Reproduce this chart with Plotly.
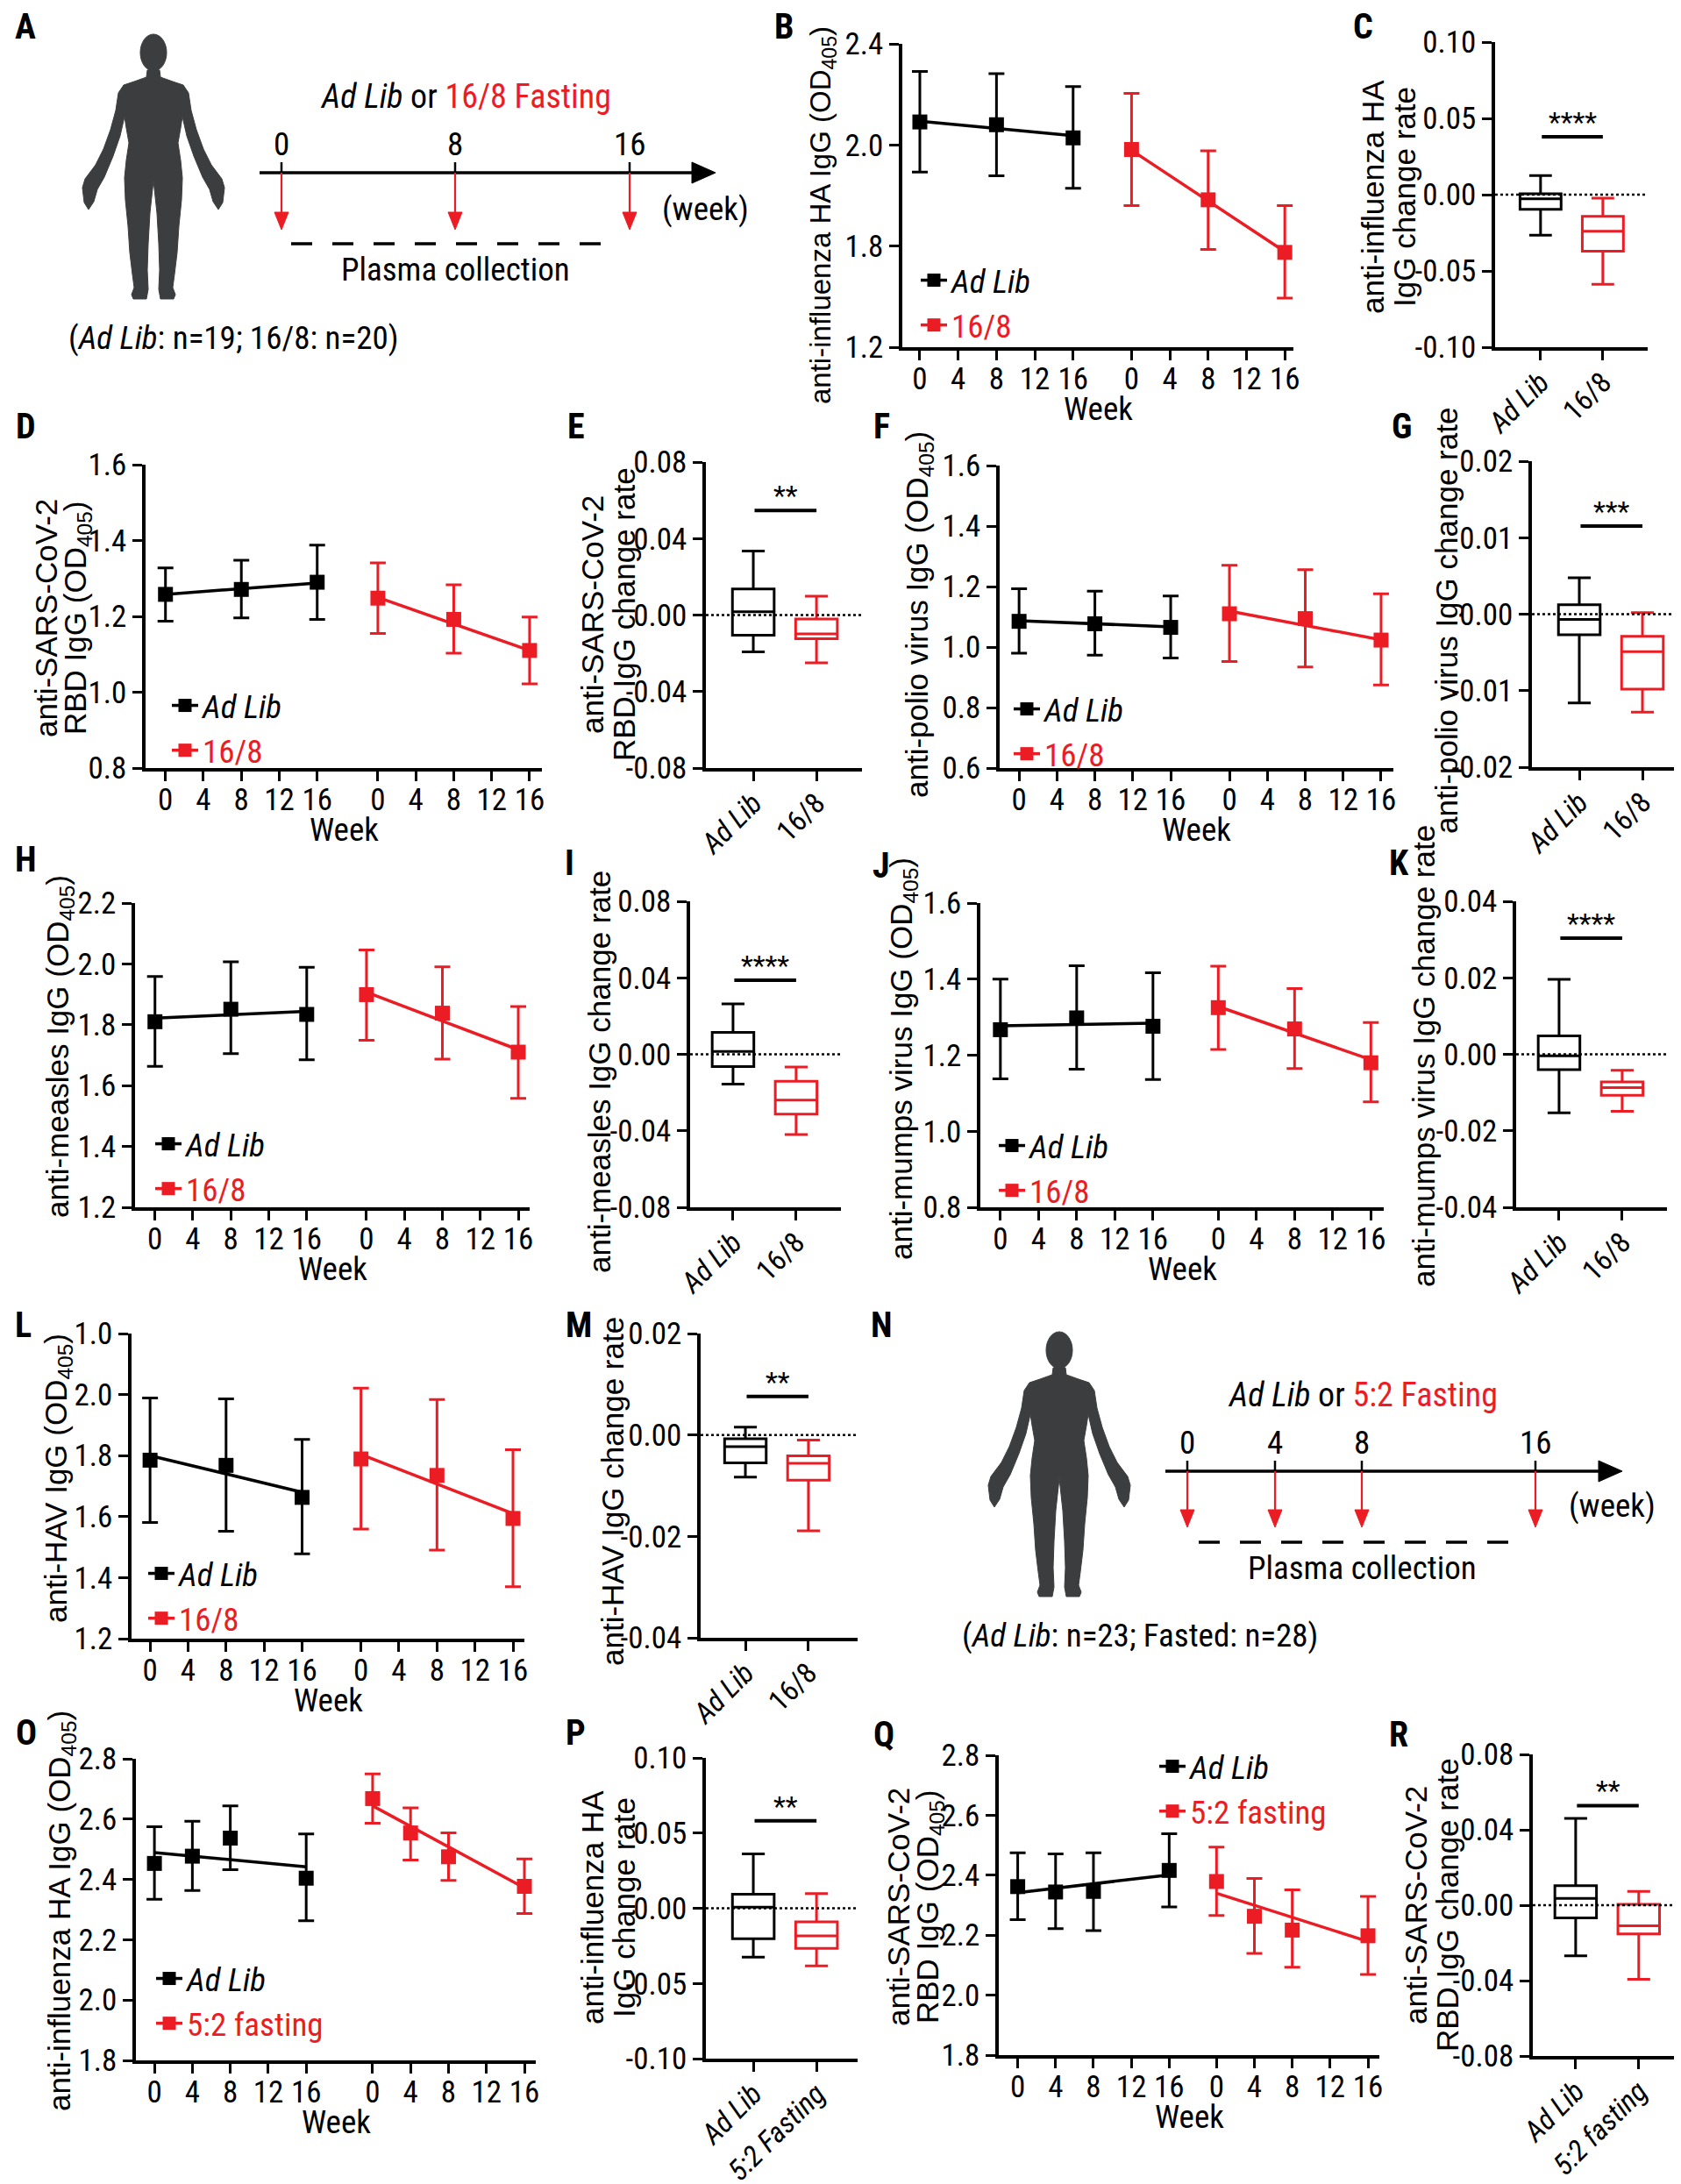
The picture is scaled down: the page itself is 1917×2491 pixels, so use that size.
import subprocess
import plotly.graph_objects as go

W, H = 1917, 2491
BLACK = "#000000"
RED = "#ec1c24"
GREY = "#3b3d3f"
FONT = "Liberation Sans, Arial, Helvetica, sans-serif"


def installed_families():
    try:
        out = subprocess.run(["fc-list", ":", "family"], capture_output=True, text=True,
                             timeout=20).stdout
    except Exception:
        out = ""
    fams = set()
    for line in out.splitlines():
        for f in line.split(","):
            fams.add(f.strip())
    return fams


FAMS = installed_families()
NARROW_CANDIDATES = ["Liberation Sans Narrow", "Arial Narrow", "Noto Sans ExtraCondensed",
                     "Noto Sans Condensed", "Roboto Condensed", "Open Sans Condensed",
                     "DejaVu Sans Condensed"]
narrow_pick = [c for c in NARROW_CANDIDATES if c in FAMS]
NARROW = ", ".join(narrow_pick + ["DejaVu Sans Condensed", "sans-serif"])

# ---------------- data ----------------
weeks_168 = [0, 8, 16]
weeks_52 = [0, 4, 8, 16]
week_ticks = [0, 4, 8, 12, 16]
week_tick_text = ["0", "4", "8", "12", "16"]

# B  anti-influenza HA IgG, 16/8
B_ad_mean = [2.091, 2.080, 2.028]
B_ad_hi = [2.291, 2.282, 2.231]
B_ad_lo = [1.893, 1.878, 1.829]
B_ad_fit = [2.094, 2.037]
B_fa_mean = [1.982, 1.783, 1.575]
B_fa_hi = [2.204, 1.977, 1.760]
B_fa_lo = [1.760, 1.587, 1.394]
B_fa_fit = [1.979, 1.578]
B_yticks = [1.2, 1.6, 2.0, 2.4]
B_yticktext = ["1.2", "1.8", "2.0", "2.4"]

# D  anti-SARS-CoV-2 RBD IgG, 16/8
D_ad_mean = [1.258, 1.271, 1.290]
D_ad_hi = [1.328, 1.348, 1.388]
D_ad_lo = [1.187, 1.196, 1.192]
D_ad_fit = [1.258, 1.288]
D_fa_mean = [1.248, 1.192, 1.110]
D_fa_hi = [1.341, 1.283, 1.198]
D_fa_lo = [1.155, 1.103, 1.022]
D_fa_fit = [1.250, 1.110]
D_yticks = [0.8, 1.0, 1.2, 1.4, 1.6]
D_yticktext = ["0.8", "1.0", "1.2", "1.4", "1.6"]

# F  anti-polio virus IgG, 16/8
F_ad_mean = [1.085, 1.077, 1.065]
F_ad_hi = [1.193, 1.185, 1.169]
F_ad_lo = [0.980, 0.973, 0.964]
F_ad_fit = [1.087, 1.067]
F_fa_mean = [1.110, 1.094, 1.023]
F_fa_hi = [1.270, 1.256, 1.176]
F_fa_lo = [0.952, 0.934, 0.875]
F_fa_fit = [1.119, 1.024]
F_yticks = [0.6, 0.8, 1.0, 1.2, 1.4, 1.6]
F_yticktext = ["0.6", "0.8", "1.0", "1.2", "1.4", "1.6"]

# H  anti-measles IgG, 16/8
H_ad_mean = [1.810, 1.851, 1.834]
H_ad_hi = [1.959, 2.007, 1.989]
H_ad_lo = [1.663, 1.705, 1.685]
H_ad_fit = [1.822, 1.844]
H_fa_mean = [1.899, 1.838, 1.710]
H_fa_hi = [2.046, 1.990, 1.860]
H_fa_lo = [1.749, 1.687, 1.558]
H_fa_fit = [1.907, 1.718]
H_yticks = [1.2, 1.4, 1.6, 1.8, 2.0, 2.2]
H_yticktext = ["1.2", "1.4", "1.6", "1.8", "2.0", "2.2"]

# J  anti-mumps virus IgG, 16/8
J_ad_mean = [1.267, 1.298, 1.276]
J_ad_hi = [1.400, 1.435, 1.417]
J_ad_lo = [1.138, 1.163, 1.136]
J_ad_fit = [1.277, 1.284]
J_fa_mean = [1.325, 1.269, 1.180]
J_fa_hi = [1.434, 1.375, 1.286]
J_fa_lo = [1.215, 1.165, 1.077]
J_fa_fit = [1.328, 1.188]
J_yticks = [0.8, 1.0, 1.2, 1.4, 1.6]
J_yticktext = ["0.8", "1.0", "1.2", "1.4", "1.6"]

# L  anti-HAV IgG, 16/8
L_ad_mean = [1.785, 1.768, 1.663]
L_ad_hi = [1.989, 1.986, 1.853]
L_ad_lo = [1.581, 1.552, 1.478]
L_ad_fit = [1.800, 1.680]
L_fa_mean = [1.789, 1.735, 1.594]
L_fa_hi = [2.021, 1.984, 1.819]
L_fa_lo = [1.559, 1.490, 1.370]
L_fa_fit = [1.804, 1.610]
L_yticks = [1.2, 1.4, 1.6, 1.8, 2.0, 2.2]
L_yticktext = ["1.2", "1.4", "1.6", "1.8", "2.0", "1.0"]

# O  anti-influenza HA IgG, 5:2
O_ad_mean = [2.453, 2.477, 2.537, 2.404]
O_ad_hi = [2.575, 2.593, 2.644, 2.551]
O_ad_lo = [2.334, 2.363, 2.432, 2.263]
O_ad_fit = [2.489, 2.442]
O_fa_mean = [2.668, 2.554, 2.475, 2.377]
O_fa_hi = [2.750, 2.637, 2.554, 2.468]
O_fa_lo = [2.586, 2.464, 2.397, 2.287]
O_fa_fit = [2.644, 2.372]
O_yticks = [1.8, 2.0, 2.2, 2.4, 2.6, 2.8]
O_yticktext = ["1.8", "2.0", "2.2", "2.4", "2.6", "2.8"]

# Q  anti-SARS-CoV-2 RBD IgG, 5:2
Q_ad_mean = [2.362, 2.344, 2.346, 2.416]
Q_ad_hi = [2.475, 2.471, 2.475, 2.538]
Q_ad_lo = [2.252, 2.222, 2.215, 2.294]
Q_ad_fit = [2.342, 2.401]
Q_fa_mean = [2.379, 2.263, 2.217, 2.198]
Q_fa_hi = [2.494, 2.389, 2.351, 2.329]
Q_fa_lo = [2.266, 2.139, 2.093, 2.069]
Q_fa_fit = [2.340, 2.179]
Q_yticks = [1.8, 2.0, 2.2, 2.4, 2.6, 2.8]
Q_yticktext = ["1.8", "2.0", "2.2", "2.4", "2.6", "2.8"]

# box plots: [lower whisker, Q1, median, Q3, upper whisker]
C_ad = [-0.0266, -0.0096, -0.0027, 0.0006, 0.0125]
C_fa = [-0.0588, -0.0370, -0.0240, -0.0142, -0.0023]
C_sig, C_stars = 0.038, "****"
C_yticks = [-0.10, -0.05, 0.0, 0.05, 0.10]
C_yticktext = ["-0.10", "-0.05", "0.00", "0.05", "0.10"]

E_ad = [-0.0193, -0.0105, 0.0017, 0.0136, 0.0335]
E_fa = [-0.0250, -0.0124, -0.0099, -0.0021, 0.0098]
E_sig, E_stars = 0.0547, "**"
E_yticks = [-0.08, -0.04, 0.0, 0.04, 0.08]
E_yticktext = ["-0.08", "-0.04", "0.00", "0.04", "0.08"]

G_ad = [-0.0116, -0.0027, -0.0007, 0.00123, 0.00475]
G_fa = [-0.0128, -0.0098, -0.0049, -0.0029, 0.0002]
G_sig, G_stars = 0.01153, "***"
G_yticks = [-0.02, -0.01, 0.0, 0.01, 0.02]
G_yticktext = ["-0.02", "-0.01", "0.00", "0.01", "0.02"]

I_ad = [-0.0156, -0.0064, 0.0015, 0.0115, 0.0264]
I_fa = [-0.0419, -0.0313, -0.0240, -0.0141, -0.0067]
I_sig, I_stars = 0.0387, "****"
I_yticks = [-0.08, -0.04, 0.0, 0.04, 0.08]
I_yticktext = ["-0.08", "-0.04", "0.00", "0.04", "0.08"]

K_ad = [-0.0153, -0.0040, -0.0004, 0.0048, 0.0196]
K_fa = [-0.0149, -0.0107, -0.0087, -0.0072, -0.0042]
K_sig, K_stars = 0.0304, "****"
K_yticks = [-0.04, -0.02, 0.0, 0.02, 0.04]
K_yticktext = ["-0.04", "-0.02", "0.00", "0.02", "0.04"]

M_ad = [-0.0083, -0.0055, -0.0023, -0.00075, 0.00155]
M_fa = [-0.0189, -0.0089, -0.0056, -0.0041, -0.0010]
M_sig, M_stars = 0.0076, "**"
M_yticks = [-0.04, -0.02, 0.0, 0.02]
M_yticktext = ["-0.04", "-0.02", "0.00", "0.02"]

P_ad = [-0.0325, -0.0202, 0.0008, 0.0093, 0.0362]
P_fa = [-0.0383, -0.0267, -0.0183, -0.0091, 0.0097]
P_sig, P_stars = 0.0582, "**"
P_yticks = [-0.10, -0.05, 0.0, 0.05, 0.10]
P_yticktext = ["-0.10", "-0.05", "0.00", "0.05", "0.10"]

R_ad = [-0.0269, -0.0067, 0.0036, 0.0104, 0.0461]
R_fa = [-0.0393, -0.0152, -0.0109, 0.0005, 0.0073]
R_sig, R_stars = 0.0528, "**"
R_yticks = [-0.08, -0.04, 0.0, 0.04, 0.08]
R_yticktext = ["-0.08", "-0.04", "0.00", "0.04", "0.08"]

cats_168 = ["<i>Ad Lib</i>", "16/8"]
cats_52_P = ["<i>Ad Lib</i>", "<i>5:2 Fasting</i>"]
cats_52_R = ["<i>Ad Lib</i>", "<i>5:2 fasting</i>"]

timeline_A_weeks = ["0", "8", "16"]
timeline_N_weeks = ["0", "4", "8", "16"]

# text sizes
TICK = 35
LEG = 37
LAB = 37
CAT = 33

# ---------------- helpers ----------------
def PX(x):
    return x / W


def PY(y):
    return 1 - y / H


fig = go.Figure()
annotations = []
shapes = []
axes_layout = {}
legends = {}
counter = [0]
legend_counter = [0]


def new_axes():
    counter[0] += 1
    s = "" if counter[0] == 1 else str(counter[0])
    return "xaxis" + s, "yaxis" + s, "x" + s, "y" + s


def text(t, x, y, size=LAB, color=BLACK, angle=0, xanchor="center", yanchor="middle",
         family=None):
    annotations.append(dict(text=t, x=PX(x), y=PY(y), xref="paper", yref="paper",
                            showarrow=False, textangle=angle, xanchor=xanchor, yanchor=yanchor,
                            font=dict(family=family or NARROW, size=size, color=color)))


def axis_style():
    return dict(showline=True, linecolor=BLACK, linewidth=3.5, ticks="outside", ticklen=11,
                tickwidth=3, tickcolor=BLACK, showgrid=False, zeroline=False, fixedrange=True,
                tickfont=dict(family=NARROW, size=TICK, color=BLACK), automargin=False)


def ytitle(lines, x, y, size=35):
    n = len(lines)
    gap = 36
    for i, ln in enumerate(lines):
        dx = (i - (n - 1) / 2) * gap
        text(ln, x + dx, y, size=size, angle=-90, family=FONT)


def poly(points, color):
    path = "M " + " L ".join("%.5f,%.5f" % (PX(u), PY(v)) for u, v in points) + " Z"
    shapes.append(dict(type="path", path=path, xref="paper", yref="paper",
                       fillcolor=color, line=dict(color=color, width=1)))


def seg(x0, y0, x1, y1, color=BLACK, width=3.5, dash=None):
    ln = dict(color=color, width=width)
    if dash:
        ln["dash"] = dash
    shapes.append(dict(type="line", xref="paper", yref="paper", x0=PX(x0), x1=PX(x1),
                       y0=PY(y0), y1=PY(y1), line=ln))


def line_panel(box, xr_, offset, weeks, ad, fa, yticks, yticktext, title_lines, title_xy,
               legend_xy, fast_name, title_size=35):
    xa, ya, xref, yref = new_axes()
    left, right, top, bottom = box
    tv = week_ticks + [offset + w for w in week_ticks]
    axes_layout[xa] = dict(axis_style(), domain=[PX(left), PX(right)], range=xr_, anchor=yref,
                           tickvals=tv, ticktext=week_tick_text * 2, tickangle=0,
                           ticklabelstandoff=-9)
    axes_layout[ya] = dict(axis_style(), domain=[PY(bottom), PY(top)],
                           range=[yticks[0], yticks[-1]], anchor=xref,
                           tickvals=yticks, ticktext=yticktext)
    groups = [(weeks, ad, BLACK), ([offset + w for w in weeks], fa, RED)]
    for xs, (mean, hi, lo, fit), col in groups:
        fig.add_trace(go.Scatter(x=[xs[0], xs[-1]], y=fit, mode="lines",
                                 line=dict(color=col, width=3.5), showlegend=False,
                                 hoverinfo="skip", xaxis=xref, yaxis=yref))
        fig.add_trace(go.Scatter(
            x=xs, y=mean, mode="markers",
            marker=dict(symbol="square", size=17, color=col),
            error_y=dict(type="data", symmetric=False,
                         array=[h - m for h, m in zip(hi, mean)],
                         arrayminus=[m - l for m, l in zip(mean, lo)],
                         color=col, thickness=3, width=9),
            showlegend=False, xaxis=xref, yaxis=yref))
    # legend
    legend_counter[0] += 1
    lid = "legend" if legend_counter[0] == 1 else "legend%d" % legend_counter[0]
    for name, col in [("<i>Ad Lib</i>", BLACK),
                      ("<span style='color:%s'>%s</span>" % (RED, fast_name), RED)]:
        fig.add_trace(go.Scatter(x=[None], y=[None], mode="lines+markers", name=name,
                                 marker=dict(symbol="square", size=15, color=col),
                                 line=dict(color=col, width=3.5), legend=lid,
                                 xaxis=xref, yaxis=yref))
    lx, ly = legend_xy
    legends[lid] = dict(x=PX(lx - 30), y=PY(ly - 27), xanchor="left", yanchor="top",
                        bgcolor="rgba(0,0,0,0)", borderwidth=0, tracegroupgap=0,
                        itemwidth=30, font=dict(family=NARROW, size=LEG, color=BLACK))
    ytitle(title_lines, title_xy[0], title_xy[1], size=title_size)
    text("Week", (left + right) / 2, bottom + 70, size=LAB)


def box_panel(box, xr_, ad, fa, cats, yticks, yticktext, sig, stars, title_lines, title_xy):
    xa, ya, xref, yref = new_axes()
    left, right, top, bottom = box
    axes_layout[xa] = dict(axis_style(), domain=[PX(left), PX(right)], range=xr_, anchor=yref,
                           tickvals=[0, 1], ticktext=cats, tickangle=-45,
                           ticklabelstandoff=-7)
    axes_layout[xa]["tickfont"] = dict(family=NARROW, size=CAT, color=BLACK)
    axes_layout[ya] = dict(axis_style(), domain=[PY(bottom), PY(top)],
                           range=[yticks[0], yticks[-1]], anchor=xref,
                           tickvals=yticks, ticktext=yticktext)
    for pos, stats, col in [(0, ad, BLACK), (1, fa, RED)]:
        fig.add_trace(go.Box(x=[pos], lowerfence=[stats[0]], q1=[stats[1]], median=[stats[2]],
                             q3=[stats[3]], upperfence=[stats[4]], orientation="v",
                             line=dict(color=col, width=3), fillcolor="white",
                             width=0.66, whiskerwidth=0.55, boxpoints=False,
                             showlegend=False, xaxis=xref, yaxis=yref))
    shapes.append(dict(type="line", xref=xref + " domain", yref=yref, x0=0, x1=1, y0=0, y1=0,
                       line=dict(color=BLACK, width=2.5, dash="dot"), layer="above"))
    shapes.append(dict(type="line", xref=xref, yref=yref, x0=0.02, x1=1.0, y0=sig, y1=sig,
                       line=dict(color=BLACK, width=4)))
    annotations.append(dict(text=stars, x=0.51, y=sig, xref=xref, yref=yref, showarrow=False,
                            yanchor="bottom", yshift=-4,
                            font=dict(family=NARROW, size=32, color=BLACK)))
    ytitle(title_lines, *title_xy)


# human silhouette outline (right half, relative to centre, in a 162 x 303 box)
BODY_RIGHT = [(7, 42), (8, 50), (22, 55), (34, 59), (40, 68), (43, 88), (49, 110), (57, 132),
              (66, 150), (72, 158), (78, 166), (81, 176), (79, 193), (74, 201), (68, 192),
              (64, 178), (56, 164), (46, 140), (38, 117), (33, 95), (31, 108), (28, 125),
              (31, 145), (33, 165), (32, 190), (29, 220), (27, 250), (24, 275), (22, 290),
              (25, 298), (23, 303), (8, 303), (6, 292), (7, 270), (6, 240), (4, 205), (0, 168)]


def human(x0, y0, w, h):
    sx, sy = w / 162.0, h / 303.0
    cx = x0 + 81 * sx
    pts = BODY_RIGHT + [(-u, v) for (u, v) in reversed(BODY_RIGHT[:-1])]
    poly([(cx + u * sx, y0 + v * sy) for u, v in pts], GREY)
    shapes.append(dict(type="circle", xref="paper", yref="paper",
                       x0=PX(cx - 15 * sx), x1=PX(cx + 15 * sx),
                       y0=PY(y0 + 43 * sy), y1=PY(y0 + 1 * sy),
                       fillcolor=GREY, line=dict(color=GREY, width=1)))


def timeline(tick_x, labels, y_line, x_start, x_tip, arrow_bottom, dash_y, dash_x0, dash_x1,
             head_text, head_xy, week_xy, plasma_xy, n_text, n_xy):
    seg(x_start, y_line, x_tip - 20, y_line, BLACK, 3.5)
    poly([(x_tip, y_line), (x_tip - 27, y_line - 12), (x_tip - 27, y_line + 12)], BLACK)
    for tx, lab in zip(tick_x, labels):
        seg(tx, y_line - 12, tx, y_line, BLACK, 2.5)
        text(lab, tx, y_line - 33, size=LAB)
        seg(tx, y_line, tx, arrow_bottom - 14, RED, 2.2)
        poly([(tx, arrow_bottom), (tx - 8, arrow_bottom - 20), (tx + 8, arrow_bottom - 20)], RED)
    seg(dash_x0, dash_y, dash_x1, dash_y, BLACK, 3.5, "24px,23px")
    text(head_text, head_xy[0], head_xy[1], size=LAB + 1)
    text("(week)", week_xy[0], week_xy[1], size=LAB)
    text("Plasma collection", plasma_xy[0], plasma_xy[1], size=LAB)
    text(n_text, n_xy[0], n_xy[1], size=LAB)


# ---------------- panel A ----------------
human(86, 30, 162, 303)
timeline([313, 511, 710], timeline_A_weeks, 189, 288, 808, 254, 270, 324, 700,
         "<i>Ad Lib</i> or <span style='color:%s'>16/8 Fasting</span>" % RED, (523, 102),
         (796, 230), (511, 300), "(<i>Ad Lib</i>: n=19; 16/8: n=20)", (258, 377))

# ---------------- panel N ----------------
human(1119, 1510, 162, 303)
timeline([1346, 1446, 1545, 1743], timeline_N_weeks, 1670, 1321, 1842, 1734, 1751, 1359, 1734,
         "<i>Ad Lib</i> or <span style='color:%s'>5:2 Fasting</span>" % RED, (1546, 1583),
         (1830, 1710), (1545, 1780), "(<i>Ad Lib</i>: n=23; Fasted: n=28)", (1292, 1857))

OD = "(OD<sub>405</sub>)"

# ---------------- line panels ----------------
line_panel((1021, 1467, 42, 388), [-1.83, 39.0], 22.1, weeks_168,
           (B_ad_mean, B_ad_hi, B_ad_lo, B_ad_fit), (B_fa_mean, B_fa_hi, B_fa_lo, B_fa_fit),
           B_yticks, B_yticktext, ["anti-influenza HA IgG " + OD], (930, 238), (1067, 308), "16/8",
           title_size=33)
line_panel((158, 610, 522, 868), [-2.1, 39.7], 22.4, weeks_168,
           (D_ad_mean, D_ad_hi, D_ad_lo, D_ad_fit), (D_fa_mean, D_fa_hi, D_fa_lo, D_fa_fit),
           D_yticks, D_yticktext, ["anti-SARS-CoV-2", "RBD IgG " + OD], (62, 697), (213, 793), "16/8")
line_panel((1132, 1581, 523, 868), [-2.05, 39.5], 22.2, weeks_168,
           (F_ad_mean, F_ad_hi, F_ad_lo, F_ad_fit), (F_fa_mean, F_fa_hi, F_fa_lo, F_fa_fit),
           F_yticks, F_yticktext, ["anti-polio virus IgG " + OD], (1040, 693), (1173, 797), "16/8")
line_panel((146, 596, 1022, 1369), [-2.1, 39.5], 22.3, weeks_168,
           (H_ad_mean, H_ad_hi, H_ad_lo, H_ad_fit), (H_fa_mean, H_fa_hi, H_fa_lo, H_fa_fit),
           H_yticks, H_yticktext, ["anti-measles IgG " + OD], (60, 1186), (194, 1293), "16/8")
line_panel((1110, 1570, 1022, 1369), [-2.1, 40.2], 22.85, weeks_168,
           (J_ad_mean, J_ad_hi, J_ad_lo, J_ad_fit), (J_fa_mean, J_fa_hi, J_fa_lo, J_fa_fit),
           J_yticks, J_yticktext, ["anti-mumps virus IgG " + OD], (1022, 1200), (1156, 1295), "16/8")
line_panel((142, 590, 1513, 1861), [-1.95, 39.4], 22.2, weeks_168,
           (L_ad_mean, L_ad_hi, L_ad_lo, L_ad_fit), (L_fa_mean, L_fa_hi, L_fa_lo, L_fa_fit),
           L_yticks, L_yticktext, ["anti-HAV IgG " + OD], (58, 1678), (186, 1783), "16/8")
line_panel((147, 603, 1998, 2342), [-1.95, 40.2], 23.0, weeks_52,
           (O_ad_mean, O_ad_hi, O_ad_lo, O_ad_fit), (O_fa_mean, O_fa_hi, O_fa_lo, O_fa_fit),
           O_yticks, O_yticktext, ["anti-influenza HA IgG " + OD], (62, 2172), (195, 2245),
           "5:2 fasting")
line_panel((1131, 1565, 1994, 2336), [-2.0, 38.2], 21.0, weeks_52,
           (Q_ad_mean, Q_ad_hi, Q_ad_lo, Q_ad_fit), (Q_fa_mean, Q_fa_hi, Q_fa_lo, Q_fa_fit),
           Q_yticks, Q_yticktext, ["anti-SARS-CoV-2", "RBD IgG " + OD], (1034, 2167), (1339, 2003),
           "5:2 fasting")

# ---------------- box panels ----------------
box_panel((1697, 1871, 40, 388), [-0.73, 1.72], C_ad, C_fa, cats_168, C_yticks, C_yticktext,
          C_sig, C_stars, ["anti-influenza HA", "IgG change rate"], (1576, 217))
box_panel((797, 975, 519, 868), [-0.75, 1.72], E_ad, E_fa, cats_168, E_yticks, E_yticktext,
          E_sig, E_stars, ["anti-SARS-CoV-2", "RBD IgG change rate"], (685, 693))
box_panel((1739, 1914, 518, 867), [-0.75, 1.68], G_ad, G_fa, cats_168, G_yticks, G_yticktext,
          G_sig, G_stars, ["anti-polio virus IgG change rate"], (1641, 700))
box_panel((779, 951, 1020, 1369), [-0.68, 1.71], I_ad, I_fa, cats_168, I_yticks, I_yticktext,
          I_sig, I_stars, ["anti-measles IgG change rate"], (675, 1215))
box_panel((1721, 1893, 1020, 1369), [-0.68, 1.71], K_ad, K_fa, cats_168, K_yticks, K_yticktext,
          K_sig, K_stars, ["anti-mumps virus IgG change rate"], (1615, 1197))
box_panel((791, 970, 1513, 1860), [-0.71, 1.78], M_ad, M_fa, cats_168, M_yticks, M_yticktext,
          M_sig, M_stars, ["anti-HAV IgG change rate"], (690, 1693))
box_panel((797, 970, 1997, 2340), [-0.75, 1.65], P_ad, P_fa, cats_52_P, P_yticks, P_yticktext,
          P_sig, P_stars, ["anti-influenza HA", "IgG change rate"], (685, 2168))
box_panel((1740, 1914, 1993, 2337), [-0.68, 1.74], R_ad, R_fa, cats_52_R, R_yticks, R_yticktext,
          R_sig, R_stars, ["anti-SARS-CoV-2", "RBD IgG change rate"], (1624, 2165))

# ---------------- panel letters ----------------
for letter, (lx, ly) in {"A": (21, 22), "B": (886, 22), "C": (1546, 22), "D": (21, 478),
                         "E": (649, 478), "F": (997, 478), "G": (1590, 478), "H": (21, 973),
                         "I": (641, 977), "J": (997, 980), "K": (1587, 977), "L": (18, 1503),
                         "M": (652, 1503), "N": (997, 1503), "O": (22, 1968), "P": (648, 1968),
                         "Q": (1000, 1970), "R": (1587, 1970)}.items():
    text("<b>%s</b>" % letter, lx, ly, size=40)

fig.update_layout(width=W, height=H, margin=dict(l=0, r=0, t=0, b=0), paper_bgcolor="white",
                  plot_bgcolor="white", annotations=annotations, shapes=shapes,
                  font=dict(family=FONT, color=BLACK), hovermode=False, **axes_layout, **legends)

fig.write_html("out.html")
